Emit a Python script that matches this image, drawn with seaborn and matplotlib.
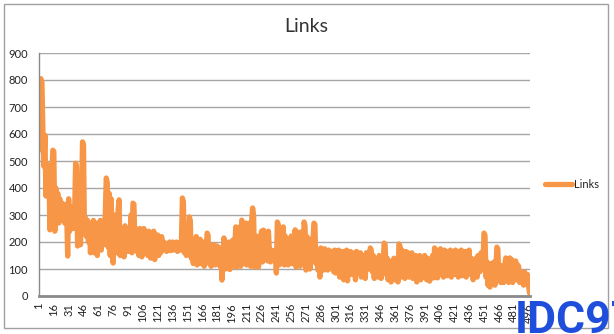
import numpy as np
import pandas as pd
import matplotlib
matplotlib.use("Agg")
import matplotlib.pyplot as plt
import seaborn as sns
from matplotlib.patches import Rectangle

links = [
    540, 800, 805, 790, 600, 480, 595, 370, 490, 410,
    480, 245, 470, 460, 540, 535, 240, 400, 290, 380,
    270, 360, 300, 345, 280, 330, 270, 340, 300, 148,
    360, 240, 310, 260, 330, 250, 300, 492, 480, 185,
    300, 250, 190, 360, 571, 560, 230, 290, 220, 280,
    200, 270, 160, 250, 190, 280, 160, 240, 270, 150,
    250, 200, 280, 170, 240, 190, 260, 300, 437, 420,
    180, 380, 150, 360, 200, 122, 300, 180, 270, 160,
    320, 356, 150, 250, 170, 240, 145, 260, 180, 230,
    165, 250, 190, 300, 160, 344, 340, 190, 250, 165,
    240, 150, 250, 200, 145, 230, 250, 160, 240, 180,
    150, 240, 200, 140, 235, 160, 240, 135, 220, 180,
    226, 150, 210, 160, 220, 170, 200, 175, 195, 165,
    190, 170, 200, 168, 185, 200, 170, 190, 180, 200,
    165, 195, 185, 170, 200, 363, 350, 160, 195, 150,
    190, 170, 293, 280, 140, 210, 120, 200, 150, 220,
    115, 190, 160, 210, 120, 180, 200, 110, 190, 150,
    233, 225, 120, 190, 110, 180, 150, 190, 115, 170,
    185, 120, 180, 110, 160, 59, 140, 215, 200, 100,
    190, 130, 200, 98, 170, 150, 207, 110, 190, 256,
    107, 240, 200, 256, 110, 281, 150, 263, 120, 270,
    115, 260, 200, 270, 110, 280, 326, 300, 107, 222,
    150, 200, 107, 222, 180, 240, 126, 244, 233, 140,
    230, 130, 240, 170, 126, 170, 150, 165, 130, 170,
    85, 274, 265, 115, 222, 170, 200, 256, 115, 222,
    140, 210, 115, 200, 160, 222, 120, 190, 200, 245,
    107, 237, 150, 220, 110, 237, 180, 120, 274, 260,
    96, 220, 160, 200, 100, 210, 150, 200, 270, 265,
    120, 170, 96, 140, 70, 178, 120, 165, 96, 175,
    110, 160, 96, 170, 120, 150, 100, 165, 90, 170,
    85, 160, 110, 170, 70, 150, 130, 165, 60, 160,
    100, 170, 56, 150, 120, 165, 80, 160, 110, 150,
    60, 165, 120, 140, 85, 160, 70, 150, 110, 130,
    65, 160, 150, 100, 140, 178, 170, 90, 150, 65,
    140, 100, 126, 70, 150, 110, 65, 140, 120, 196,
    190, 80, 140, 60, 130, 110, 52, 120, 90, 140,
    60, 110, 130, 52, 193, 185, 70, 170, 110, 160,
    65, 165, 120, 160, 70, 150, 130, 160, 65, 140,
    100, 150, 52, 130, 110, 150, 60, 126, 140, 70,
    150, 100, 60, 140, 120, 55, 130, 100, 150, 67,
    178, 120, 170, 67, 160, 100, 175, 80, 150, 70,
    170, 120, 165, 75, 150, 110, 170, 70, 160, 130,
    80, 170, 100, 165, 70, 150, 120, 170, 75, 160,
    110, 165, 70, 150, 130, 170, 80, 140, 110, 60,
    130, 100, 140, 70, 150, 120, 90, 160, 100, 130,
    233, 225, 70, 126, 40, 110, 33, 120, 60, 90,
    126, 40, 100, 181, 175, 60, 115, 50, 110, 80,
    50, 115, 141, 60, 130, 50, 141, 90, 135, 50,
    120, 80, 130, 60, 115, 110, 50, 89, 60, 85,
    40, 89, 70, 45, 80, 40, 11,
]
categories = list(range(1, len(links) + 1))
y_ticks = [0, 100, 200, 300, 400, 500, 600, 700, 800, 900]
x_tick_labels = list(range(1, 497, 15))
series_name = "Links"
title = "Links"

sns.set_theme(style="white")
plt.rcParams['font.family'] = ['Lato', 'DejaVu Sans']

W, H = 614, 334
fig = plt.figure(figsize=(W / 100, H / 100), dpi=100)
ax = fig.add_axes([39 / W, 1 - 296 / H, (530 - 39) / W, (296 - 53) / H])

df = pd.DataFrame({"Index": categories, series_name: links})
sns.lineplot(data=df, x="Index", y=series_name, ax=ax, color="#F79646",
             lw=3.8, label=series_name, solid_joinstyle="round", solid_capstyle="round")

ax.set_ylim(0, 900)
ax.set_xlim(1, len(links) + 0.5)
ax.set_yticks(y_ticks)
ax.set_yticklabels([str(v) for v in y_ticks], fontsize=8, color="#222222")
ax.set_xticks(x_tick_labels)
ax.set_xticklabels([str(v) for v in x_tick_labels], rotation=90, fontsize=8, color="#222222")
ax.set_xticks(range(1, len(links) + 1, 3), minor=True)
ax.tick_params(axis="x", which="both", length=3, color="#8a8a8a", width=1, direction="out", pad=2)
ax.tick_params(axis="y", length=2, color="#8a8a8a", width=1, direction="out", pad=6)
ax.set_xlabel("")
ax.set_ylabel("")
ax.yaxis.grid(True, color="#a6a6a6", lw=1)
ax.xaxis.grid(False)
ax.set_axisbelow(True)
for s in ["top", "right"]:
    ax.spines[s].set_visible(False)
for s in ["left", "bottom"]:
    ax.spines[s].set_color("#8a8a8a")
    ax.spines[s].set_linewidth(1)
ax.spines["bottom"].set_linewidth(2)

ax.legend(loc="center left", bbox_to_anchor=(545 / W, 1 - 184 / H), bbox_transform=fig.transFigure,
          frameon=False, fontsize=8, handlelength=2.4, handletextpad=0.2, borderpad=0, borderaxespad=0)

fig.text(306 / W, 1 - 27 / H, title, ha="center", va="center", fontsize=14, color="#333333")

fig.patches.append(Rectangle((4 / W, 1 - 328 / H), (608 - 4) / W, (328 - 4) / H,
                             transform=fig.transFigure, fill=False, ec="#a0a0a0", lw=1))

fig.text(515 / W, 1 - 300 / H, "IDC97", ha="left", va="top", fontsize=32, fontweight="bold",
         color="#1f4ddc", family="Roboto")

fig.savefig("out.png", dpi=100)
